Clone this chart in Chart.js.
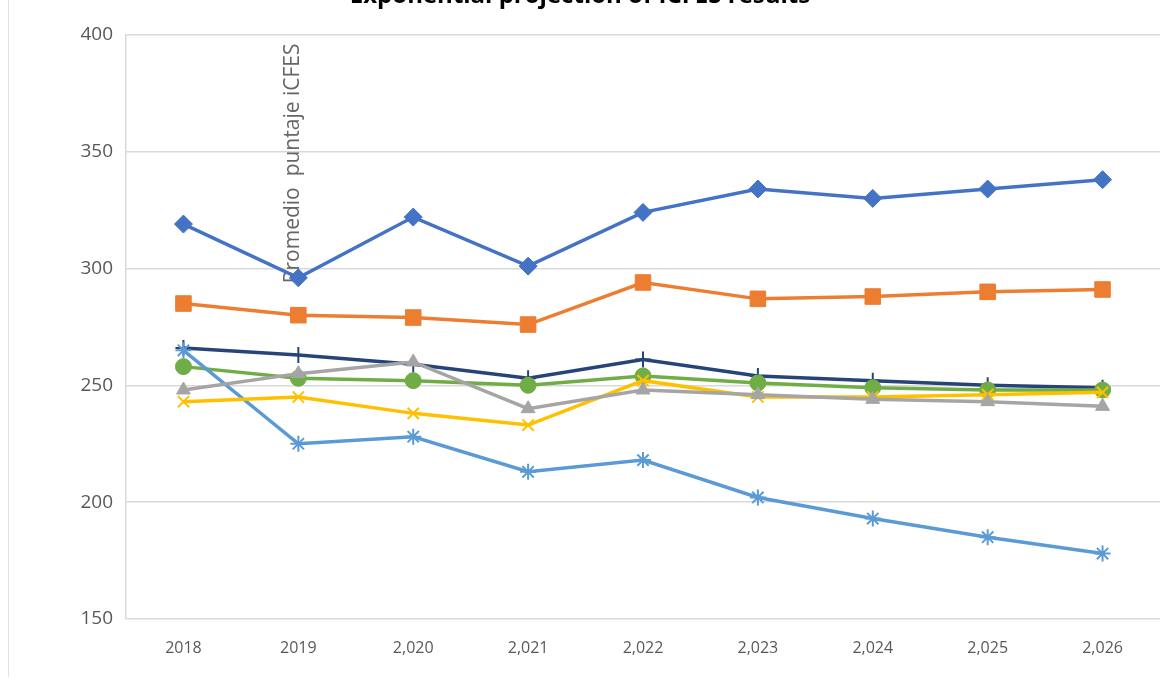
<!DOCTYPE html>
<html>
<head>
<meta charset="utf-8">
<script src="https://cdn.jsdelivr.net/npm/chart.js@4.4.0/dist/chart.umd.min.js"></script>
<style>
  body { margin: 0; background: #fff; }
  #wrap { position: relative; width: 1174px; height: 679px; overflow: hidden; }
  #wrap::before { content: ""; position: absolute; left: 8px; top: 0; bottom: 2px; border-left: 1px solid #e2e2e2; }
  #grafico { position: absolute; left: 0; top: -18px; }
</style>
</head>
<body>
<div id="wrap"><canvas id="grafico" width="1174" height="697"></canvas></div>
<script>
// años (etiquetas eje x)
const anios = ["2018", "2019", "2,020", "2,021", "2,022", "2,023", "2,024", "2,025", "2,026"];
// eje y
const yMin = 150, yMax = 400, yPaso = 50;

// series
const serie1 = [319, 296, 322, 301, 324, 334, 330, 334, 338];
const serie2 = [285, 280, 279, 276, 294, 287, 288, 290, 291];
const serie3 = [248, 255, 260, 240, 248, 246, 244, 243, 241];
const serie4 = [243, 245, 238, 233, 252, 245, 245, 246, 247];
const serie5 = [265, 225, 228, 213, 218, 202, 193, 185, 178];
const serie6 = [258, 253, 252, 250, 254, 251, 249, 248, 248];
const serie7 = [266, 263, 259, 253, 261, 254, 252, 250, 249];

const titulo = "Exponential projection of ICFES results";
const tituloEjeY = "Promedio  puntaje iCFES";

function linea(data, color, estilo, radio, borde) {
  return {
    data: data,
    borderColor: color,
    backgroundColor: color,
    borderWidth: 3.5,
    pointStyle: estilo,
    pointRadius: radio,
    pointHoverRadius: radio,
    pointBorderWidth: borde,
    pointBorderColor: color,
    pointBackgroundColor: color,
    tension: 0
  };
}

// texto rotado del eje y (va dentro del area, como en el original)
const ejeYTexto = {
  id: 'ejeYTexto',
  beforeDatasetsDraw(chart) {
    const ctx = chart.ctx;
    const x = chart.scales.x.getPixelForValue(1) - 5;
    const y = chart.scales.y.getPixelForValue(345);
    ctx.save();
    ctx.translate(x, y);
    ctx.rotate(-Math.PI / 2);
    ctx.font = '21px "Open Sans"';
    ctx.fillStyle = '#666666';
    ctx.textAlign = 'center';
    ctx.textBaseline = 'middle';
    ctx.fillText(tituloEjeY, 0, 0);
    ctx.restore();
  }
};

new Chart(document.getElementById('grafico'), {
  type: 'line',
  data: {
    labels: anios,
    datasets: [
      linea(serie1, '#4472C4', 'rectRot', 9, 1),
      linea(serie2, '#ED7D31', 'rect', 11, 1),
      linea(serie3, '#A5A5A5', 'triangle', 8, 1),
      linea(serie4, '#FFC000', 'crossRot', 8, 2),
      linea(serie5, '#5B9BD5', 'star', 8, 2),
      linea(serie6, '#70AD47', 'circle', 8, 1),
      linea(serie7, '#264478', 'cross', 8, 2)
    ]
  },
  options: {
    responsive: false,
    animation: false,
    layout: { padding: { left: 0, right: 14, top: 0, bottom: 0 } },
    plugins: {
      legend: { display: false },
      tooltip: { enabled: false },
      title: {
        display: true,
        text: titulo,
        color: '#000',
        font: { family: '"Open Sans"', size: 24, weight: 'bold' },
        padding: { top: 0, bottom: 24 }
      }
    },
    scales: {
      x: {
        offset: true,
        grid: { display: false, drawTicks: false },
        border: { display: false },
        ticks: { color: '#595959', font: { family: '"Open Sans"', size: 16 }, padding: 20, maxRotation: 0 },
        afterFit: s => { s.height = 60; }
      },
      y: {
        min: yMin,
        max: yMax,
        ticks: { stepSize: yPaso, color: '#595959', font: { family: '"Open Sans"', size: 19 }, padding: 13 },
        grid: { color: '#d9d9d9', lineWidth: 1.5, drawTicks: false },
        border: { display: true, color: '#d9d9d9', width: 1.5 },
        afterFit: s => { s.width = 126; }
      }
    }
  },
  plugins: [ejeYTexto]
});
</script>
</body>
</html>
